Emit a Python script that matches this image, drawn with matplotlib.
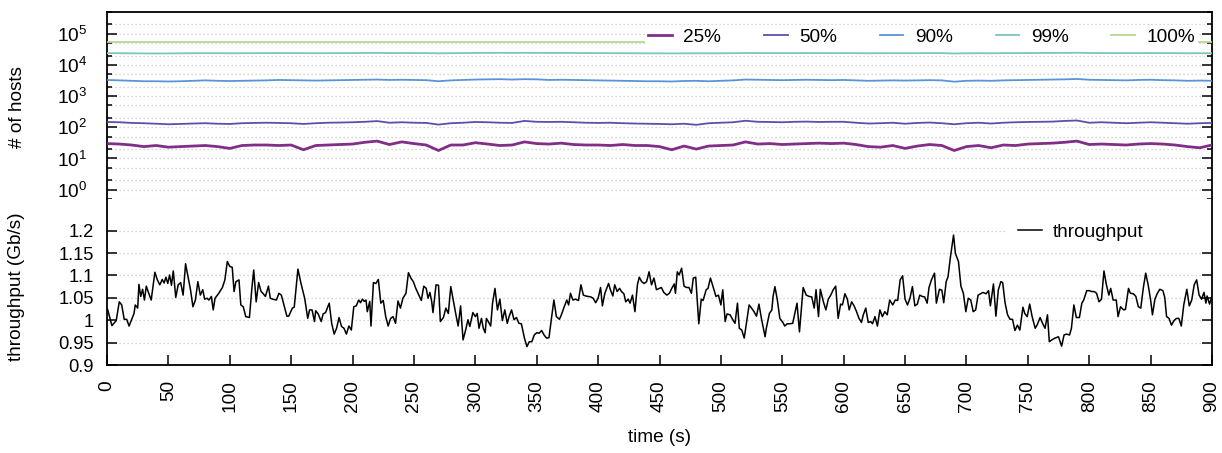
import matplotlib
matplotlib.use('Agg')
import matplotlib.pyplot as plt
from matplotlib.patches import Rectangle
from matplotlib.ticker import FixedLocator, NullFormatter, LogFormatterMathtext

# ---------------- data ----------------
host_time = list(range(0, 901, 10))

p25 = [30, 29, 27, 24, 26, 23, 24, 25, 26, 24,
       21, 26, 27, 27, 26, 27, 19, 26, 27, 28,
       29, 33, 36, 28, 34, 30, 27, 18, 27, 27,
       32, 29, 26, 27, 34, 30, 29, 31, 28, 27,
       27, 26, 28, 26, 26, 24, 19, 25, 20, 25,
       26, 27, 34, 29, 30, 28, 29, 30, 31, 30,
       31, 28, 24, 23, 26, 21, 25, 28, 26, 18,
       24, 26, 22, 27, 26, 29, 30, 31, 33, 36,
       28, 29, 28, 27, 29, 30, 29, 27, 24, 22,
       27]

p50 = [148, 145, 138, 135, 130, 125, 128, 132, 135, 130,
       128, 135, 138, 140, 138, 135, 128, 135, 140, 142,
       145, 150, 158, 140, 145, 140, 138, 122, 135, 140,
       148, 145, 140, 138, 160, 150, 148, 150, 145, 140,
       138, 140, 135, 132, 130, 128, 125, 130, 120, 135,
       140, 145, 162, 150, 148, 145, 150, 152, 148, 150,
       150, 140, 132, 135, 140, 130, 138, 142, 135, 125,
       135, 140, 132, 140, 145, 148, 150, 152, 160, 165,
       140, 145, 140, 135, 140, 145, 140, 135, 130, 135,
       138]

p90 = [3300, 3200, 3100, 3000, 3000, 2950, 3000, 3100, 3200, 3100,
       3050, 3100, 3150, 3200, 3300, 3250, 3200, 3150, 3200, 3250,
       3300, 3350, 3400, 3300, 3350, 3300, 3250, 3000, 3200, 3300,
       3400, 3450, 3500, 3400, 3500, 3450, 3300, 3350, 3300, 3250,
       3200, 3150, 3100, 3050, 3000, 3000, 2950, 3050, 3100, 3000,
       3100, 3200, 3400, 3350, 3300, 3250, 3300, 3350, 3300, 3250,
       3300, 3200, 3100, 3150, 3200, 3150, 3200, 3250, 3200, 2900,
       3100, 3150, 3100, 3200, 3250, 3300, 3350, 3400, 3450, 3550,
       3350, 3300, 3250, 3200, 3300, 3350, 3250, 3200, 3100, 3150,
       3100]

p99 = [24000, 23800, 23600, 23500, 23400, 23500, 23600, 23800, 23900, 23800,
       23700, 23800, 23900, 24000, 24100, 24000, 23900, 23800, 23900, 24000,
       24100, 24200, 24300, 24100, 24200, 24100, 24000, 23600, 23900, 24100,
       24300, 24400, 24500, 24400, 24500, 24400, 24200, 24300, 24200, 24100,
       24000, 23900, 23800, 23700, 23600, 23600, 23500, 23600, 23700, 23600,
       23700, 23900, 24200, 24100, 24000, 23900, 24000, 24100, 24000, 23900,
       24000, 23900, 23700, 23800, 23900, 23800, 23900, 24000, 23900, 23400,
       23700, 23800, 23700, 23900, 24000, 24100, 24200, 24300, 24400, 24600,
       24200, 24100, 24000, 23900, 24000, 24100, 24000, 23900, 23700, 23800,
       23800]

time_100 = [0, 100, 200, 300, 400, 500, 600, 700, 800, 900]
p100 = [55000, 55000, 55000, 55000, 55000, 55000, 55000, 55000, 55000, 55000]

throughput_samples = [
    (0.5, 1.024), (4, 0.988), (7.5, 0.999), (10, 1.041), (12, 1.034), (14, 1.002), (16, 1.002), (18, 0.987),
    (22, 1.015), (23, 1.034), (25, 1.027), (26, 1.080), (27.5, 1.053), (29, 1.069), (30.5, 1.045), (32, 1.076),
    (34, 1.060), (36, 1.045), (39, 1.107), (41, 1.090), (43, 1.079), (45, 1.091), (46.5, 1.083), (48, 1.096),
    (49.5, 1.082), (51, 1.101), (52.5, 1.078), (54, 1.110), (56, 1.051), (58, 1.079), (60, 1.084), (62, 1.056),
    (64, 1.126), (66, 1.097), (68, 1.068), (70, 1.030), (72, 1.045), (74, 1.086), (76, 1.056), (78, 1.068),
    (79.5, 1.047), (81.5, 1.049), (83, 1.045), (85, 1.053), (86.5, 1.023), (88, 1.049), (91, 1.060), (94, 1.073),
    (96, 1.090), (98, 1.131), (100, 1.120), (102, 1.118), (103.5, 1.064), (105, 1.086), (107.5, 1.090), (109, 1.034),
    (111, 1.030), (113, 1.008), (116, 1.006), (118, 1.071), (119.5, 1.112), (121.5, 1.041), (123.5, 1.084), (125.5, 1.064),
    (127, 1.060), (129, 1.053), (131.5, 1.076), (133, 1.049), (135, 1.047), (138, 1.045), (140, 1.060), (142, 1.056),
    (144.5, 1.030), (146.5, 1.009), (148, 1.009), (151, 1.027), (152.5, 1.029), (155.5, 1.114), (158, 1.082), (161, 1.049),
    (163.5, 1.004), (165, 1.023), (167, 1.023), (169, 0.997), (170, 1.021), (172, 1.014), (174.5, 0.997), (176, 1.014),
    (178, 1.017), (181, 1.038), (183, 0.993), (185, 0.969), (187, 0.982), (189, 1.006), (191, 0.986), (193, 0.982),
    (195, 0.969), (197, 0.987), (199, 0.978), (201, 1.030), (203, 1.032), (205, 1.045), (206.5, 1.039), (208, 1.047),
    (209.5, 1.042), (211, 1.045), (212, 1.019), (214, 1.042), (215, 0.987), (217, 1.084), (219, 1.082), (221, 1.091),
    (223, 1.038), (225, 1.044), (227, 1.008), (229, 0.987), (231, 1.004), (233, 1.008), (235, 0.993), (237, 1.043),
    (239, 1.027), (241, 1.049), (243.5, 1.060), (245.5, 1.106), (247.5, 1.094), (249.5, 1.086), (251.5, 1.071), (254, 1.056),
    (256, 1.044), (258, 1.076), (260, 1.071), (261.5, 1.049), (263, 1.062), (264.5, 1.041), (265.5, 1.017), (268, 1.079),
    (270, 1.078), (271.5, 0.997), (274, 1.006), (276, 1.027), (278, 1.015), (280, 1.075), (282, 1.045), (284, 1.015),
    (286, 0.987), (288, 1.032), (290, 0.956), (292, 0.977), (294, 1.001), (295.5, 0.986), (298, 1.017), (300, 1.008),
    (301.5, 1.015), (303, 0.982), (305, 1.004), (306.5, 0.982), (308, 0.972), (309, 1.004), (310.5, 0.997), (312.5, 0.987),
    (314, 1.038), (316, 1.071), (318, 1.023), (320, 1.047), (322, 0.999), (324, 1.023), (326, 0.993), (327.5, 1.008),
    (329.5, 1.023), (331.5, 1.001), (333.5, 1.006), (335.5, 0.993), (337.5, 0.992), (340, 0.960), (342, 0.941), (344, 0.952),
    (346, 0.952), (348, 0.967), (350, 0.972), (352, 0.971), (354, 0.977), (356, 0.967), (358, 0.960), (360, 0.961),
    (362, 1.004), (364, 1.045), (366, 1.008), (368.5, 1.002), (370.5, 1.015), (372, 1.027), (374.5, 1.045), (376, 1.034),
    (377.5, 1.060), (379.5, 1.045), (381.5, 1.047), (384, 1.044), (386, 1.079), (388, 1.056), (390, 1.054), (392, 1.053),
    (394, 1.052), (396, 1.049), (398, 1.039), (400, 1.049), (402, 1.073), (403.5, 1.032), (405.5, 1.060), (408.5, 1.082),
    (410, 1.068), (412, 1.054), (413.5, 1.079), (415.5, 1.064), (417.5, 1.071), (419, 1.064), (421, 1.059), (422.5, 1.041),
    (424.5, 1.047), (426, 1.038), (428, 1.056), (430, 1.019), (432, 1.079), (433.5, 1.096), (435.5, 1.086), (437.5, 1.082),
    (439.5, 1.086), (441.5, 1.108), (443.5, 1.079), (445.5, 1.094), (447.5, 1.068), (450, 1.071), (451.5, 1.073), (453.5, 1.062),
    (456, 1.056), (458, 1.060), (460, 1.071), (462, 1.081), (463, 1.060), (464.5, 1.108), (466, 1.101), (468, 1.116),
    (470, 1.076), (472, 1.073), (474, 1.073), (476, 1.060), (477.5, 1.094), (479.5, 1.096), (482, 0.992), (484, 1.047),
    (485.5, 1.044), (488, 1.068), (489.5, 1.071), (491.5, 1.094), (494, 1.071), (496, 1.053), (498, 1.056), (500, 1.034),
    (501.5, 1.068), (503.5, 0.997), (505, 1.014), (507.5, 1.012), (509.5, 1.002), (511.5, 0.993), (513.5, 1.038), (515, 0.982),
    (517, 0.978), (519, 0.960), (521, 0.997), (523, 1.034), (525, 1.027), (527, 1.019), (529, 1.009), (531, 1.036),
    (533, 1.004), (536, 0.963), (537, 0.982), (539.5, 1.015), (541.5, 1.023), (542.5, 1.053), (544, 1.075), (546, 1.045),
    (548, 1.004), (550.5, 0.995), (552, 0.987), (554, 0.992), (556, 0.992), (558.5, 0.993), (560, 1.012), (562, 1.038),
    (564, 0.974), (567, 1.073), (569.5, 1.056), (572, 1.053), (574, 1.052), (576, 1.027), (577.5, 1.068), (579.5, 1.008),
    (581, 1.069), (583.5, 1.041), (585.5, 1.023), (587.5, 1.047), (589.5, 1.056), (591.5, 1.068), (593.5, 1.076), (595.5, 1.004),
    (597.5, 1.036), (599, 1.034), (601, 1.059), (603, 1.047), (604.5, 1.023), (606.5, 1.041), (608.5, 1.032), (610.5, 1.019),
    (612.5, 1.004), (614.5, 0.995), (616, 1.012), (618, 1.027), (620, 0.995), (622, 0.997), (623.5, 0.992), (625.5, 1.008),
    (627.5, 0.987), (629.5, 1.023), (631.5, 1.008), (633.5, 1.019), (635.5, 1.012), (637.5, 1.045), (640, 1.034), (642, 1.045),
    (644, 1.044), (646, 1.090), (648, 1.099), (650, 1.047), (652, 1.034), (654, 1.049), (656, 1.075), (658, 1.032),
    (660, 1.036), (662, 1.056), (664, 1.053), (666, 1.052), (668, 1.038), (669.5, 1.073), (671.5, 1.090), (674, 1.105),
    (675.5, 1.038), (678, 1.069), (680, 1.067), (681.5, 1.039), (683.5, 1.086), (685, 1.097), (687, 1.142), (689.5, 1.190),
    (691, 1.149), (693.5, 1.131), (695.5, 1.076), (697.5, 1.060), (699.5, 1.019), (701.5, 1.049), (703.5, 1.045), (705.5, 1.019),
    (707.5, 1.023), (709.5, 1.056), (711.5, 1.059), (713.5, 1.062), (716, 1.059), (718, 1.066), (719.5, 1.032), (722, 1.081),
    (724, 1.009), (726, 1.068), (728, 1.086), (729.5, 1.084), (731.5, 1.038), (733.5, 1.012), (735.5, 1.002), (737.5, 1.002),
    (739.5, 0.977), (741.5, 0.989), (743.5, 0.978), (746, 1.029), (747.5, 1.015), (749.5, 1.008), (751.5, 1.036), (753.5, 1.008),
    (756, 0.982), (757.5, 0.989), (760, 1.006), (762, 0.993), (764, 0.982), (766, 1.012), (767.5, 0.952), (769.5, 0.956),
    (772, 0.960), (775, 0.963), (777.5, 0.942), (779.5, 0.967), (781.5, 0.969), (784, 0.967), (785.5, 0.982), (787.5, 1.034),
    (789.5, 1.006), (792, 1.006), (794, 1.038), (795.5, 1.045), (798, 1.066), (800, 1.066), (802, 1.064), (804, 1.064),
    (806, 1.060), (808, 1.041), (810, 1.047), (812, 1.110), (814, 1.079), (816, 1.056), (817.5, 1.071), (819.5, 1.045),
    (822, 1.045), (823.5, 1.008), (825.5, 1.030), (828, 1.023), (829.5, 1.024), (832, 1.071), (833.5, 1.060), (836, 1.059),
    (838, 1.053), (840, 1.030), (842, 1.027), (844, 1.071), (846, 1.105), (848, 1.079), (850, 1.045), (851.5, 1.012),
    (853.5, 1.047), (855.5, 1.060), (857.5, 1.069), (860, 1.066), (861.5, 1.051), (863, 1.008), (865, 1.004), (867, 0.989),
    (869, 0.999), (871, 1.004), (873, 1.004), (875, 0.987), (877, 1.034), (879.5, 1.069), (881.5, 1.032), (883.5, 1.045),
    (885.5, 1.079), (887.5, 1.090), (889.5, 1.056), (891.5, 1.047), (893.5, 1.062), (895, 1.038), (896, 1.054), (898, 1.036),
    (899.5, 1.049),
]
tp_time = [p[0] for p in throughput_samples]
tp_value = [p[1] for p in throughput_samples]

series_labels = ['25%', '50%', '90%', '99%', '100%']
series_colors = ['#7b2181', '#4f47a8', '#4f8fd6', '#74c2b8', '#b6d98e']

host_major_ticks = [1, 10, 100, 1000, 10000, 100000]
host_minor_ticks = [0.5, 2, 5, 20, 50, 200, 500, 2000, 5000, 20000, 50000, 200000, 500000]
tp_ticks = [0.9, 0.95, 1.0, 1.05, 1.1, 1.15, 1.2]
tp_tick_labels = ['0.9', '0.95', '1', '1.05', '1.1', '1.15', '1.2']
x_ticks = list(range(0, 901, 50))

# ---------------- style ----------------
plt.rcParams['font.family'] = ['Liberation Sans', 'DejaVu Sans']
plt.rcParams['mathtext.fontset'] = 'custom'
plt.rcParams['mathtext.rm'] = 'Liberation Sans'
plt.rcParams['mathtext.it'] = 'Liberation Sans:italic'
plt.rcParams['mathtext.bf'] = 'Liberation Sans:bold'
plt.rcParams['mathtext.default'] = 'regular'
FS = 13.7
FS_TP = 13.2
GRID = dict(color='#c8c8c8', linestyle=(0, (1, 2.2)), linewidth=0.9)

W, H = 1222, 453
fig = plt.figure(figsize=(W / 100, H / 100), dpi=100)


def rect(l, t, r, b):
    return [l / W, 1 - b / H, (r - l) / W, (b - t) / H]


ax_top = fig.add_axes(rect(107, 12, 1212, 199))
ax_bot = fig.add_axes(rect(107, 199, 1212, 365), sharex=ax_top)

# --- host percentiles (log) ---
host_series = [p25, p50, p90, p99]
widths = [2.0, 1.3, 1.3, 1.3]
for vals, lab, col, lw in zip(host_series, series_labels[:4], series_colors[:4], widths):
    ax_top.plot(host_time, vals, color=col, lw=lw, label=lab, zorder=3, alpha=0.95)
ax_top.plot(time_100, p100, color=series_colors[4], lw=1.3, label=series_labels[4], zorder=3)

ax_top.set_yscale('log')
ax_top.set_ylim(0.5, 5e5)
ax_top.set_xlim(0, 900)
ax_top.yaxis.set_major_locator(FixedLocator(host_major_ticks))
ax_top.yaxis.set_major_formatter(LogFormatterMathtext())
ax_top.yaxis.set_minor_locator(FixedLocator(host_minor_ticks))
ax_top.yaxis.set_minor_formatter(NullFormatter())
ax_top.grid(True, which='both', axis='y', **GRID)
ax_top.grid(False, axis='x')
ax_top.tick_params(axis='y', which='major', direction='in', length=7, width=1.1,
                   left=True, right=True, labelsize=FS, pad=14.4)
ax_top.tick_params(axis='y', which='minor', direction='in', length=3.6, width=1.1,
                   left=True, right=True)
ax_top.tick_params(axis='x', which='both', bottom=False, top=False, labelbottom=False)
ax_top.spines['bottom'].set_visible(False)
for s in ['left', 'right', 'top']:
    ax_top.spines[s].set_linewidth(1.3)

leg = ax_top.legend(loc='center right', bbox_to_anchor=((1198 - 107) / 1105, (199 - 37) / 187),
                    ncol=5, frameon=True, fancybox=False, edgecolor='none', facecolor='white',
                    framealpha=1, fontsize=FS, handlelength=1.25, handletextpad=0.6,
                    columnspacing=2.25, borderpad=0.15, borderaxespad=0)
leg.set_zorder(5)

# --- throughput ---
ax_bot.plot(tp_time, tp_value, color='black', lw=1.1, label='throughput', zorder=3)
ax_bot.set_ylim(0.9, 0.9 + 166 / 448)
ax_bot.set_yticks(tp_ticks)
ax_bot.set_yticklabels(tp_tick_labels)
ax_bot.grid(True, axis='y', **GRID)
ax_bot.grid(False, axis='x')
ax_bot.tick_params(axis='y', direction='in', length=7, width=1.1, left=True, right=True,
                   labelsize=FS_TP, pad=9.4)
ax_bot.set_xticks(x_ticks)
ax_bot.set_xticklabels([str(v) for v in x_ticks], rotation=90)
ax_bot.tick_params(axis='x', direction='in', length=7, width=1.1, bottom=True, top=False,
                   labelsize=FS, pad=10.8)
ax_bot.spines['top'].set_visible(False)
for s in ['left', 'right', 'bottom']:
    ax_bot.spines[s].set_linewidth(1.3)

# white key area behind the throughput legend (hides grid, like the original)
ax_bot.add_patch(Rectangle(((1005 - 107) / 1105, (365 - 244) / 166), 1 - (1005 - 107) / 1105, 24 / 166,
                           transform=ax_bot.transAxes, facecolor='white', edgecolor='none', zorder=2.5))
leg2 = ax_bot.legend(loc='center left', bbox_to_anchor=((1014 - 107) / 1105, (365 - 232) / 166),
                     frameon=True, fancybox=False, edgecolor='none', facecolor='white',
                     framealpha=1, fontsize=FS, handlelength=1.25, handletextpad=0.6,
                     borderpad=0.2, borderaxespad=0)
leg2.set_zorder(5)

fig.text(17 / W, 1 - 106.7 / H, '# of hosts', rotation=90, ha='center', va='center', fontsize=FS)
fig.text(17 / W, 1 - 286.7 / H, 'throughput (Gb/s)', rotation=90, ha='center', va='center', fontsize=FS)
fig.text(659.5 / W, 1 - 438 / H, 'time (s)', ha='center', va='center', fontsize=FS)

fig.savefig('out.png', dpi=100)
